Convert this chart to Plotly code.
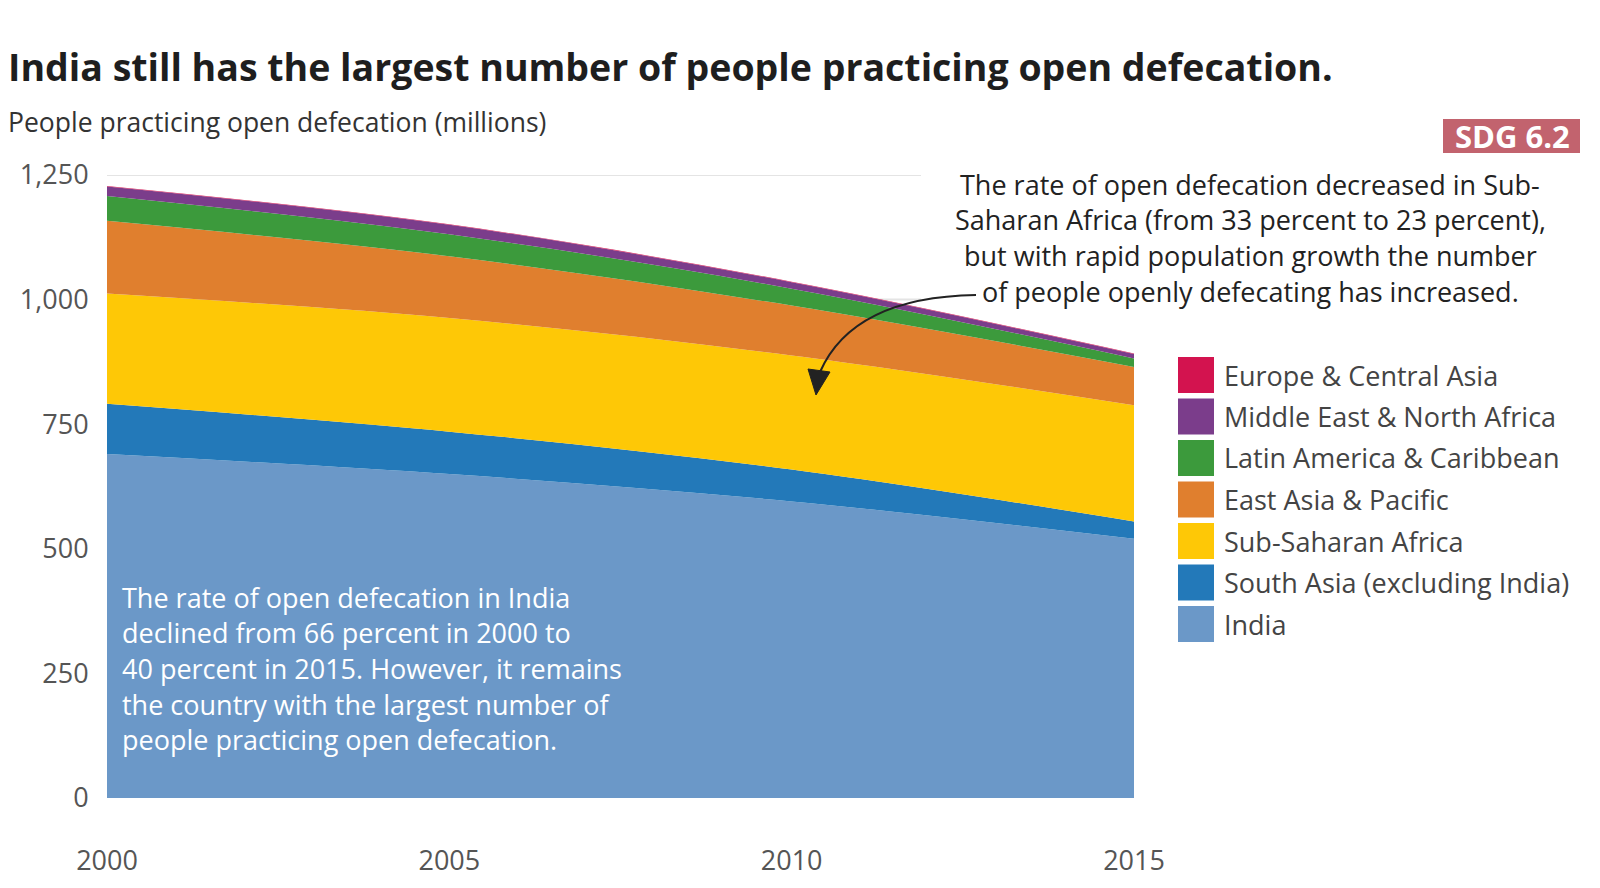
import plotly.graph_objects as go

# people practicing open defecation, millions
years = [2000, 2005, 2010, 2015]
india = [690, 650, 595, 520]
south_asia = [101, 85, 64, 35]
ssa = [221, 228, 229, 233]
east_asia = [146, 124, 100, 77]
latam = [50, 44, 34, 17]
mena = [19, 19, 13, 9]
europe = [1, 1, 1, 1]

names = ["India", "South Asia (excluding India)", "Sub-Saharan Africa",
         "East Asia & Pacific", "Latin America & Caribbean",
         "Middle East & North Africa", "Europe & Central Asia"]
series = [india, south_asia, ssa, east_asia, latam, mena, europe]
colors = ["#6b98c8", "#2379b9", "#fec806", "#e07f2e", "#3c9a3c",
          "#7b3d8b", "#d3134f"]

y_ticks = [0, 250, 500, 750, 1000, 1250]
x_ticks = [2000, 2005, 2010, 2015]

india_note = ["The rate of open defecation in India",
              "declined from 66 percent in 2000 to",
              "40 percent in 2015. However, it remains",
              "the country with the largest number of",
              "people practicing open defecation."]
ssa_note = ["The rate of open defecation decreased in Sub-",
            "Saharan Africa (from 33 percent to 23 percent),",
            "but with rapid population growth the number",
            "of people openly defecating has increased."]

W, H = 1600, 888
L, R, T, B = 99, 1126, 167, 790
FONT = "Open Sans"
TXT = 27


def px(x):
    return (x - L) / (R - L)


def py(y):
    return (B - y) / (B - T)


fig = go.Figure()
for name, vals, col in zip(names, series, colors):
    fig.add_trace(go.Scatter(x=years, y=vals, name=name, stackgroup="one",
                             mode="lines", line=dict(width=0, color=col, shape="spline"),
                             fillcolor=col, showlegend=False))

shapes = []
# short gridlines, they stop before the right hand note
for v in y_ticks:
    shapes.append(dict(type="line", xref="paper", yref="y", x0=0, x1=px(913),
                       y0=v, y1=v, line=dict(color="#e4e4e4", width=2), layer="below"))

annotations = []
for i, line in enumerate(india_note):
    annotations.append(dict(xref="paper", yref="paper", x=px(112), y=py(589 + i * 35.7),
                            text=line, showarrow=False, xanchor="left", yanchor="middle",
                            font=dict(family=FONT, size=TXT, color="white")))
for i, line in enumerate(ssa_note):
    annotations.append(dict(xref="paper", yref="paper", x=px(1242), y=py(176 + i * 35.7),
                            text=line, showarrow=False, xanchor="center", yanchor="middle",
                            font=dict(family=FONT, size=TXT, color="#222")))

# curved arrow to the Sub-Saharan band
shapes.append(dict(type="path", xref="paper", yref="paper", layer="above",
                   path=f"M {px(968)},{py(287)} Q {px(845)},{py(289)} {px(812)},{py(364)}",
                   line=dict(color="#222", width=2)))
shapes.append(dict(type="path", xref="paper", yref="paper", layer="above",
                   path=f"M {px(808)},{py(387)} L {px(800)},{py(361)} L {px(822)},{py(364)} Z",
                   fillcolor="#222", line=dict(color="#222", width=1)))

# legend, top of stack first
for i, (name, col) in enumerate(zip(names[::-1], colors[::-1])):
    cy = 367 + i * 41.5
    shapes.append(dict(type="rect", xref="paper", yref="paper",
                       x0=px(1170), x1=px(1206), y0=py(cy - 18), y1=py(cy + 18),
                       fillcolor=col, line=dict(width=0)))
    annotations.append(dict(xref="paper", yref="paper", x=px(1214), y=py(cy),
                            text=name, showarrow=False, xanchor="left", yanchor="middle",
                            font=dict(family=FONT, size=TXT, color="#444")))

annotations.append(dict(xref="paper", yref="paper", x=px(-2), y=py(114),
                        text="People practicing open defecation (millions)", showarrow=False,
                        xanchor="left", yanchor="middle",
                        font=dict(family=FONT, size=26.5, color="#333")))

# SDG badge
shapes.append(dict(type="rect", xref="paper", yref="paper",
                   x0=px(1435), x1=px(1572), y0=py(145), y1=py(111),
                   fillcolor="#c2636e", line=dict(width=0)))
annotations.append(dict(xref="paper", yref="paper", x=px(1504), y=py(128),
                        text="<b>SDG 6.2</b>", showarrow=False, xanchor="center", yanchor="middle",
                        font=dict(family=FONT, size=31, color="white")))

fig.update_layout(
    width=W, height=H,
    margin=dict(l=L, r=W - R, t=T, b=H - B),
    paper_bgcolor="white", plot_bgcolor="white",
    title=dict(text="<b>India still has the largest number of people practicing open defecation.</b>",
               x=0, xanchor="left", xref="container",
               y=1 - 60 / H, yanchor="middle", yref="container",
               font=dict(family=FONT, size=37.5, color="#1e1e1e")),
    shapes=shapes, annotations=annotations,
    xaxis=dict(range=[2000, 2015], tickvals=x_ticks, showgrid=False, zeroline=False,
               showline=False, ticks="outside", ticklen=39, tickcolor="rgba(0,0,0,0)",
               tickfont=dict(family=FONT, size=TXT, color="#555")),
    yaxis=dict(range=[0, 1250], tickvals=y_ticks, tickformat=",", showgrid=False,
               zeroline=False, showline=False, ticks="outside", ticklen=12,
               tickcolor="rgba(0,0,0,0)",
               tickfont=dict(family=FONT, size=TXT, color="#555")),
    showlegend=False,
)

fig.write_html("out.html")
